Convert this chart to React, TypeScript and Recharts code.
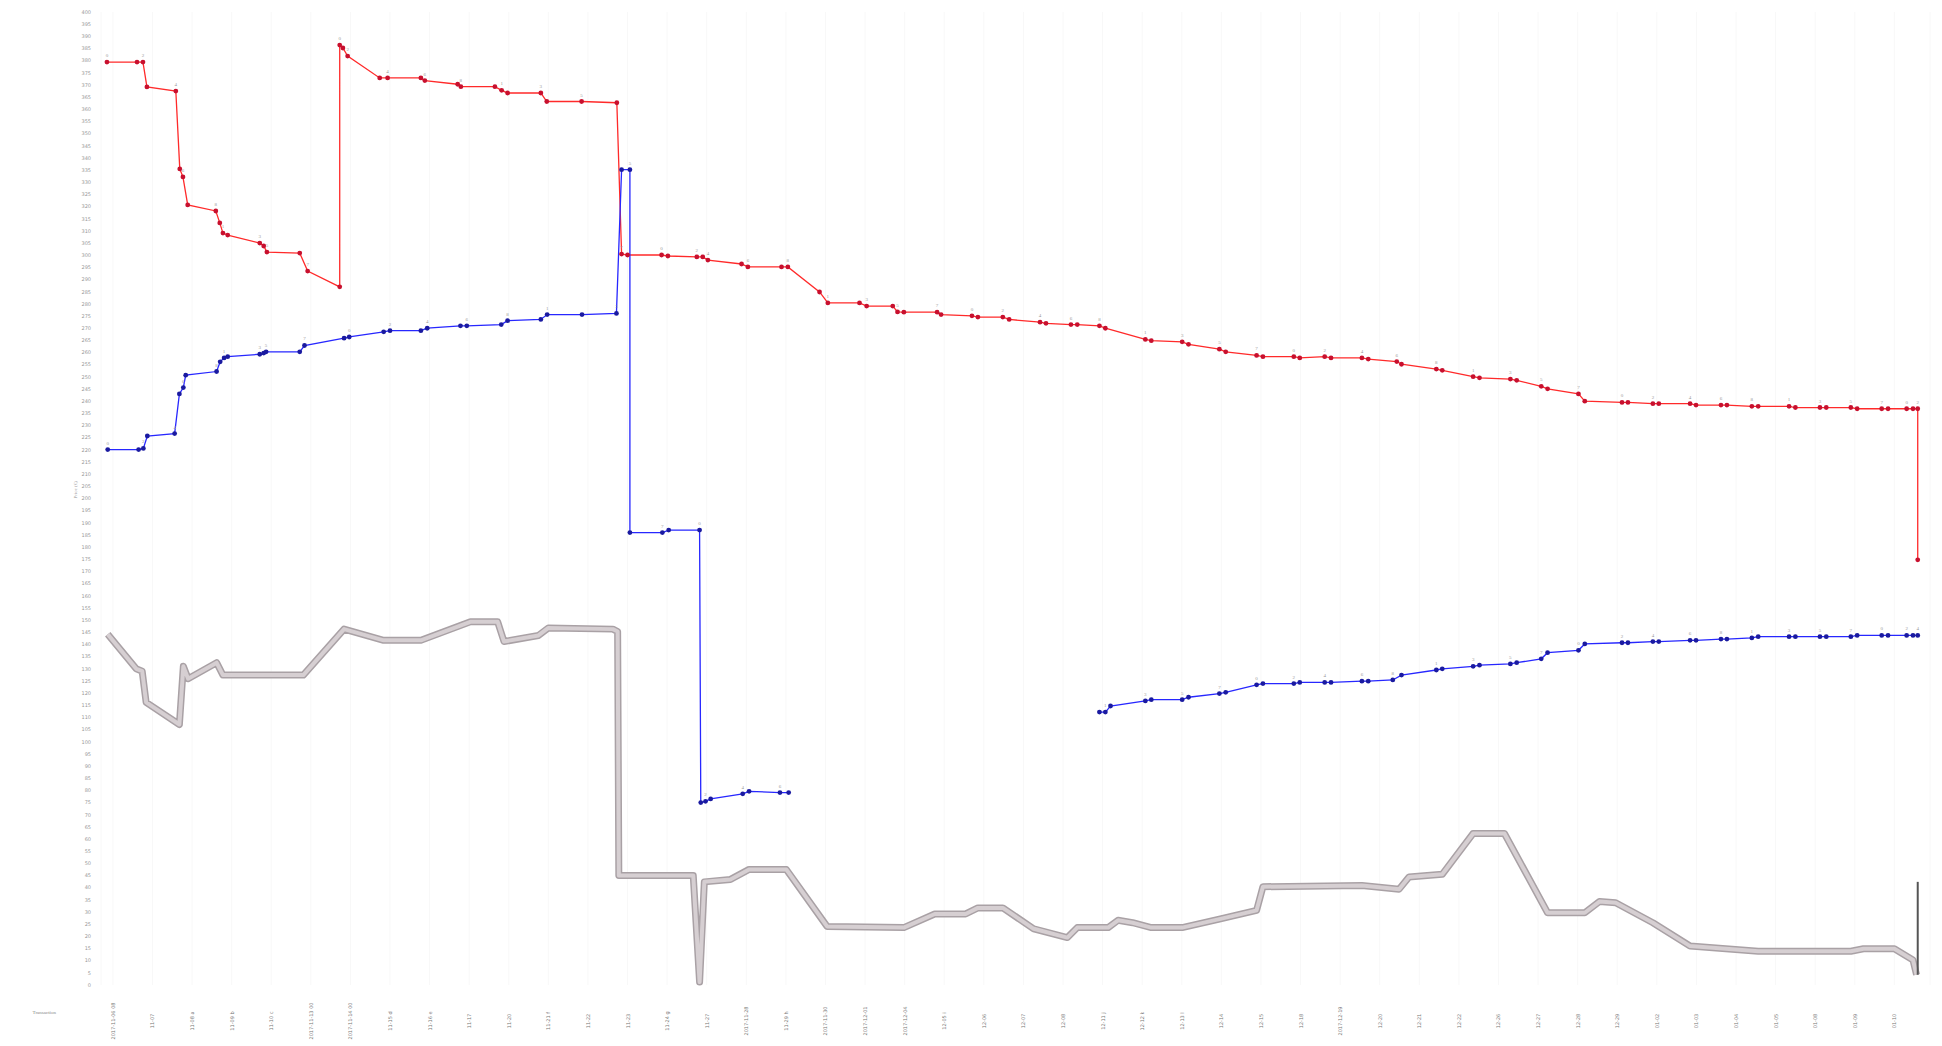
import React from "react";
import {
  LineChart,
  Line,
  XAxis,
  YAxis,
  CartesianGrid,
  LabelList,
} from "recharts";

// x positions are in "category slot" units (0 = first tick label)
const categories = [
  "2017-11-06 08", "11-07", "11-08 a", "11-09 b", "11-10 c", "2017-11-13 00", "2017-11-14 00",
  "11-15 d", "11-16 e", "11-17", "11-20", "11-21 f", "11-22", "11-23", "11-24 g", "11-27",
  "2017-11-28", "11-29 h", "2017-11-30", "2017-12-01", "2017-12-04", "12-05 i",
  "12-06", "12-07", "12-08", "12-11 j", "12-12 k", "12-13 l", "12-14", "12-15",
  "12-18", "2017-12-19", "12-20", "12-21", "12-22", "12-26", "12-27", "12-28",
  "12-29", "01-02", "01-03", "01-04", "01-05", "01-08", "01-09", "01-10",
];

const redX = [
  -0.15, 0.61, 0.76, 0.86, 1.59, 1.69, 1.77, 1.89, 2.6, 2.7, 2.78, 2.9, 3.71, 3.81, 3.89,
  4.72, 4.92, 5.73, 5.73, 5.81, 5.93, 6.74, 6.94, 7.78, 7.88, 8.71, 8.79, 9.65, 9.82, 9.97,
  10.81, 10.96, 11.84, 12.73, 12.85, 13.0, 13.86, 14.02, 14.75, 14.9, 15.03, 15.88, 16.04,
  16.89, 17.05, 17.85, 18.06, 18.86, 19.04, 19.7, 19.82, 19.98, 20.82, 20.92, 21.7, 21.85,
  22.48, 22.64, 23.42, 23.57, 24.2, 24.36, 24.92, 25.07, 26.08, 26.23, 27.01, 27.17, 27.95,
  28.11, 28.89, 29.05, 29.83, 29.98, 30.61, 30.77, 31.55, 31.71, 32.43, 32.55, 33.43, 33.58,
  34.36, 34.52, 35.3, 35.46, 36.08, 36.24, 37.02, 37.18, 38.12, 38.27, 38.9, 39.05, 39.84,
  39.99, 40.62, 40.77, 41.4, 41.56, 42.34, 42.5, 43.12, 43.28, 43.9, 44.06, 44.68, 44.84,
  45.31, 45.47, 45.59, 45.59,
];
const redY = [
  379.4, 379.4, 379.4, 369.2, 367.5, 335.5, 332.2, 320.7, 318.2, 313.3, 309.1, 308.3, 305.0,
  303.8, 301.3, 300.9, 293.5, 287.0, 386.4, 385.2, 381.9, 372.9, 372.9, 372.9, 371.8, 370.3,
  369.3, 369.3, 367.8, 366.7, 366.7, 363.2, 363.2, 362.7, 300.5, 300.1, 300.1, 299.7, 299.3,
  299.3, 298.0, 296.4, 295.2, 295.2, 295.2, 284.9, 280.4, 280.4, 279.1, 279.1, 276.7, 276.6,
  276.6, 275.6, 275.1, 274.6, 274.6, 273.6, 272.5, 272.0, 271.5, 271.5, 271.0, 270.0, 265.4,
  264.9, 264.4, 263.4, 261.4, 260.3, 258.8, 258.3, 258.3, 257.8, 258.3, 257.8, 257.8, 257.3,
  256.3, 255.2, 253.2, 252.7, 250.1, 249.6, 249.1, 248.6, 246.1, 245.1, 243.0, 240.0, 239.5,
  239.5, 239.0, 239.0, 239.0, 238.4, 238.4, 238.4, 237.9, 237.9, 237.9, 237.4, 237.4, 237.4,
  237.4, 236.9, 236.9, 236.9, 236.9, 236.9, 236.9, 174.8,
];

const blueX = [
  -0.13, 0.65, 0.77, 0.87, 1.56, 1.68, 1.78, 1.84, 2.62, 2.71, 2.81, 2.9, 3.71, 3.81, 3.87,
  4.72, 4.84, 5.84, 5.97, 6.84, 7.0, 7.78, 7.94, 8.78, 8.94, 9.81, 9.97, 10.81, 10.97, 11.85,
  12.72, 12.85, 13.06, 13.06, 13.88, 14.04, 14.82, 14.85, 14.97, 15.1, 15.91, 16.07, 16.85,
  17.07, 21.0, 24.92, 25.07, 25.2, 26.08, 26.23, 27.01, 27.17, 27.95, 28.11, 28.89, 29.05,
  29.83, 29.98, 30.61, 30.77, 31.55, 31.71, 32.33, 32.55, 33.43, 33.58, 34.36, 34.52, 35.3,
  35.46, 36.08, 36.24, 37.02, 37.18, 38.12, 38.27, 38.9, 39.05, 39.84, 39.99, 40.62, 40.77,
  41.4, 41.56, 42.34, 42.5, 43.12, 43.28, 43.9, 44.06, 44.68, 44.84, 45.31, 45.47, 45.59,
];
const blueY: (number | null)[] = [
  220.1, 220.1, 220.6, 225.7, 226.7, 243.0, 245.6, 250.7, 252.2, 256.2, 257.8, 258.3, 259.3,
  259.8, 260.3, 260.3, 262.9, 265.9, 266.4, 268.5, 269.0, 269.0, 270.0, 271.0, 271.0, 271.5,
  273.1, 273.6, 275.6, 275.6, 276.1, 335.2, 335.2, 186.0, 186.0, 187.0, 187.0, 75.0, 75.5,
  76.5, 78.6, 79.6, 79.1, 79.1, null, 112.2, 112.2, 114.7, 116.8, 117.3, 117.3, 118.3, 119.8,
  120.3, 123.4, 123.9, 123.9, 124.4, 124.4, 124.4, 124.9, 124.9, 125.4, 127.4, 129.5, 130.0,
  131.0, 131.5, 132.0, 132.5, 134.1, 136.6, 137.6, 140.2, 140.7, 140.7, 141.2, 141.2, 141.7,
  141.7, 142.2, 142.2, 142.7, 143.2, 143.2, 143.2, 143.2, 143.2, 143.2, 143.7, 143.7, 143.7,
  143.7, 143.7, 143.7,
];

const greyX = [
  -0.13, 0.59, 0.74, 0.84, 1.68, 1.78, 1.9, 2.62, 2.78, 4.81, 5.84, 6.84, 7.78, 9.03, 9.72,
  9.88, 10.75, 11.0, 12.63, 12.75, 12.78, 14.66, 14.82, 14.94, 15.6, 16.07, 17.01, 18.04,
  19.98, 20.76, 21.54, 21.85, 22.48, 23.26, 24.11, 24.36, 25.14, 25.39, 25.76, 26.23, 27.01,
  27.95, 28.89, 29.05, 31.55, 32.49, 32.74, 33.58, 34.36, 35.15, 36.24, 37.18, 37.55, 37.96,
  38.9, 39.84, 41.56, 43.9, 44.22, 45.0, 45.47, 45.56,
];
const greyY = [
  144.2, 130.0, 129.0, 116.2, 107.1, 131.0, 125.9, 132.5, 127.4, 127.4, 146.3, 141.7, 141.7,
  149.3, 149.3, 141.2, 143.7, 146.8, 146.3, 145.3, 45.0, 45.0, 1.2, 42.4, 43.4, 47.5, 47.5,
  24.1, 23.6, 29.2, 29.2, 31.7, 31.7, 23.1, 19.5, 23.6, 23.6, 26.6, 25.6, 23.6, 23.6, 27.1,
  30.7, 40.4, 40.9, 39.4, 44.4, 45.5, 62.3, 62.3, 29.7, 29.7, 34.3, 33.8, 25.6, 16.0, 13.9,
  13.9, 14.9, 14.9, 10.3, 4.2,
];

const endBarX = [45.59, 45.59];
const endBarY = [4.2, 42.4];

const yTicks = Array.from({ length: 81 }, (_, i) => i * 5);
const xTicks = categories.map((_, i) => i);

const redData = redX.map((x, i) => ({ x, y: redY[i] }));
const blueData = blueX.map((x, i) => ({ x, y: blueY[i] }));
const greyData = greyX.map((x, i) => ({ x, y: greyY[i] }));
const endBarData = endBarX.map((x, i) => ({ x, y: endBarY[i] }));

const XTick = (props: any) => {
  const { x, y, payload } = props;
  return (
    <text
      x={x}
      y={y + 28}
      transform={`rotate(-90 ${x} ${y + 28})`}
      textAnchor="middle"
      dominantBaseline="central"
      fontSize={5}
      fill="#777"
      fontFamily="DejaVu Sans"
    >
      {categories[payload.value]}
    </text>
  );
};

// tiny grey tag above the first dot of each pair
const pairLabel = (props: any) => {
  const { x, y, index } = props;
  if (index % 2 !== 0 || !Number.isFinite(y) || !Number.isFinite(x)) return null;
  return (
    <text x={x} y={y - 5} fontSize={5} fill="#999" textAnchor="middle">
      {index % 9}
    </text>
  );
};

const App = () => {
  return (
    <div style={{ position: "absolute", left: 0, top: 0, background: "#fff" }}>
      <LineChart
        width={1942}
        height={1046}
        margin={{ top: 12, right: 12, left: 60, bottom: 6 }}
      >
        <CartesianGrid stroke="#f8f8f8" horizontal={false} />
        <XAxis
          type="number"
          dataKey="x"
          domain={[-0.3, 45.9]}
          ticks={xTicks}
          interval={0}
          tick={<XTick />}
          tickLine={false}
          axisLine={false}
          height={55}
          allowDuplicatedCategory={false}
          label={{
            value: "Transaction",
            position: "left",
            offset: 45,
            fontSize: 5,
            fill: "#888",
          }}
        />
        <YAxis
          type="number"
          domain={[0, 400]}
          ticks={yTicks}
          interval={0}
          width={41}
          tickLine={false}
          axisLine={false}
          tickMargin={4}
          tick={{ fontSize: 5, fill: "#999", fontFamily: "DejaVu Sans" }}
          label={{
            value: "Price (€)",
            angle: -90,
            position: "insideLeft",
            offset: 15,
            fontSize: 5,
            fill: "#999",
          }}
        />
        <Line
          data={greyData}
          dataKey="y"
          stroke="#a9a1a5"
          strokeWidth={7}
          dot={false}
          strokeLinejoin="round"
          isAnimationActive={false}
        />
        <Line
          data={greyData}
          dataKey="y"
          stroke="#d6cfd2"
          strokeWidth={4}
          dot={false}
          strokeLinejoin="round"
          isAnimationActive={false}
        />
        <Line
          data={endBarData}
          dataKey="y"
          stroke="#555"
          strokeWidth={2}
          dot={false}
          isAnimationActive={false}
        />
        <Line
          data={redData}
          dataKey="y"
          stroke="#ff2a2a"
          strokeWidth={1.3}
          dot={{ r: 2.4, fill: "#c8102e", stroke: "none" }}
          isAnimationActive={false}
        >
          <LabelList dataKey="y" content={pairLabel} />
        </Line>
        <Line
          data={blueData}
          dataKey="y"
          stroke="#2727ff"
          strokeWidth={1.3}
          connectNulls={false}
          dot={{ r: 2.4, fill: "#1a1aa0", stroke: "none" }}
          isAnimationActive={false}
        >
          <LabelList dataKey="y" content={pairLabel} />
        </Line>
      </LineChart>
    </div>
  );
};

export default App;
